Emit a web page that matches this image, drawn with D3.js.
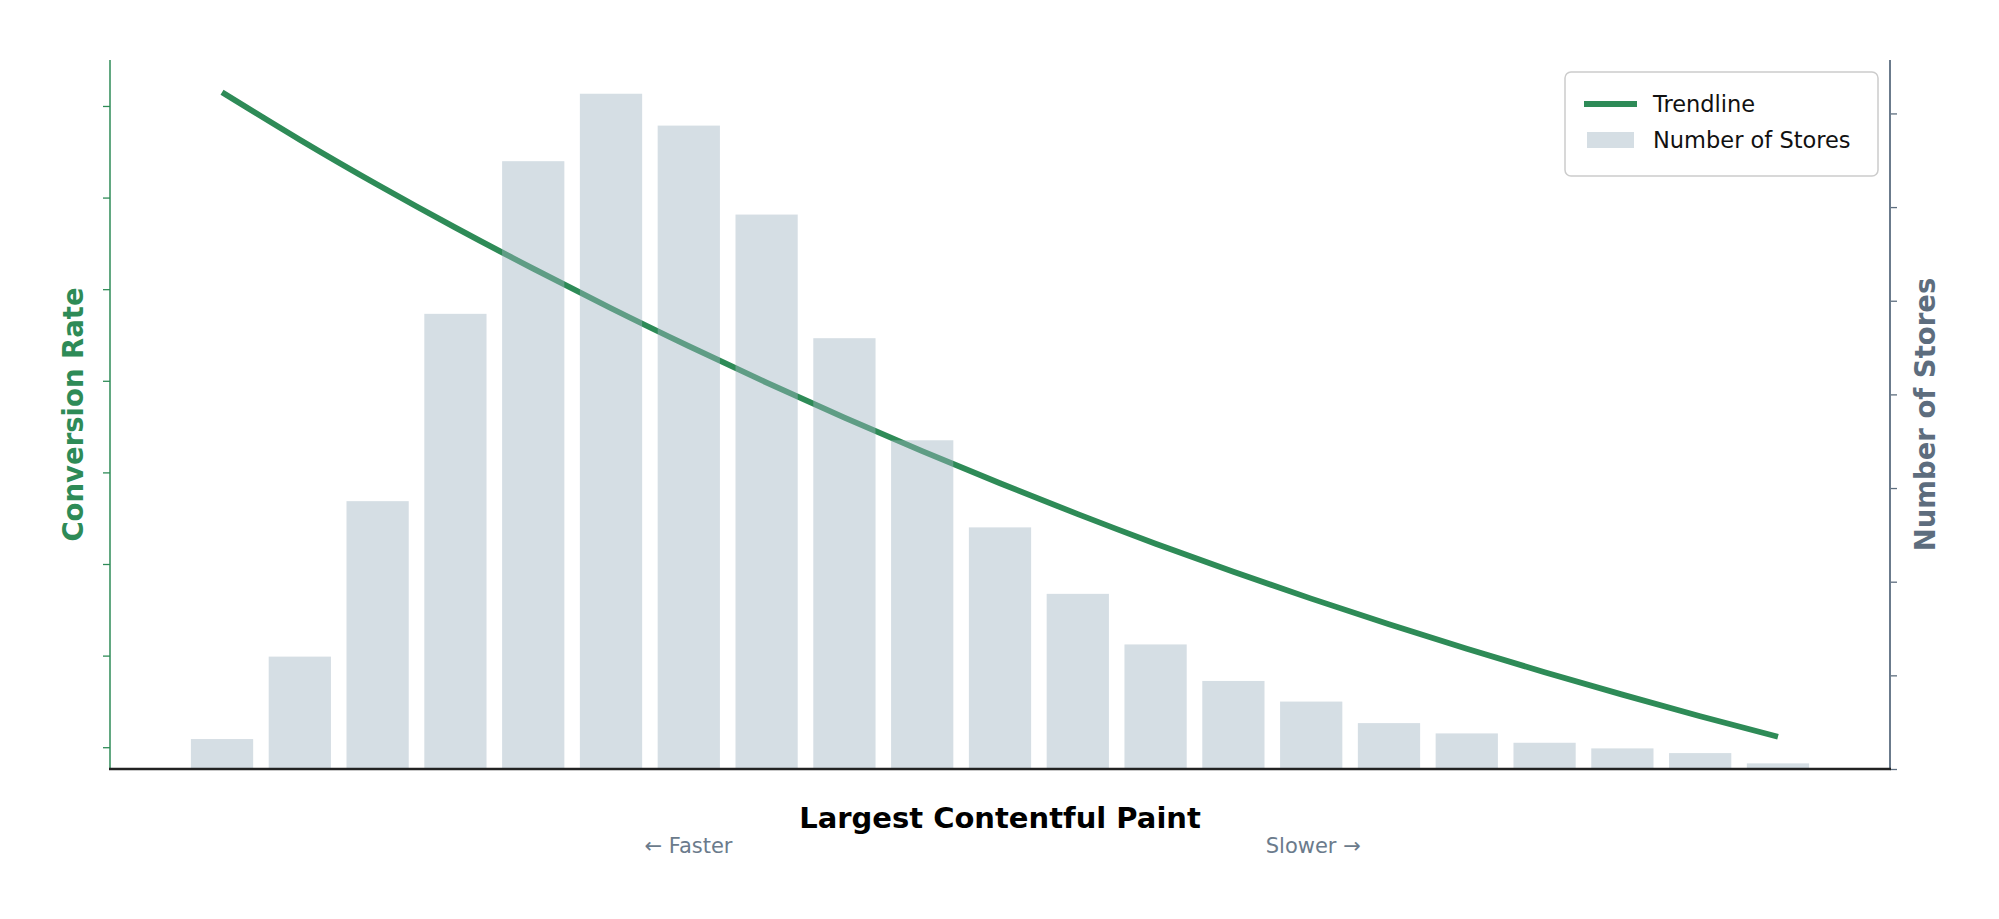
<!DOCTYPE html>
<html>
<head>
<meta charset="utf-8">
<script src="https://cdn.jsdelivr.net/npm/d3@7"></script>
<style>
  body { margin: 0; background: #fff; }
  svg { display: block; font-family: "DejaVu Sans", sans-serif; }
</style>
</head>
<body>
<div id="chart"></div>
<script>
// LCP bins (tick labels are hidden in the chart)
var lcpBins = ["0.0s","0.5s","1.0s","1.5s","2.0s","2.5s","3.0s","3.5s","4.0s","4.5s","5.0s",
               "5.5s","6.0s","6.5s","7.0s","7.5s","8.0s","8.5s","9.0s","9.5s","10.0s"];
// number of stores per bin
var storeCounts = [32, 120, 286, 486, 649, 721, 687, 592, 460, 351, 258,
                   187, 133, 94, 72, 49, 38, 28, 22, 17, 6];
// conversion rate trendline (%)
var conversionRate = [4.575, 4.316, 4.070, 3.836, 3.612, 3.396, 3.189, 2.990, 2.799, 2.616, 2.441,
                      2.272, 2.111, 1.958, 1.811, 1.671, 1.538, 1.409, 1.287, 1.169, 1.057];
var rateTicks = [1.0, 1.5, 2.0, 2.5, 3.0, 3.5, 4.0, 4.5];
var storeTicks = [0, 100, 200, 300, 400, 500, 600, 700];

var W = 1999, H = 919;
var margin = {top: 60, right: 109, bottom: 150, left: 110},
    width = W - margin.left - margin.right,
    height = H - margin.top - margin.bottom;

var green = "#2e8b57", slate = "#5d6d7e";

var svg = d3.select("#chart")
  .append("svg")
    .attr("width", W)
    .attr("height", H)
  .append("g")
    .attr("transform", "translate(" + margin.left + "," + margin.top + ")");

// X: bars of width 0.8 with 5% margins like matplotlib
var n = lcpBins.length;
var span = (n - 1) + 0.8;
var x = d3.scaleLinear()
  .domain([-0.4 - span * 0.05, n - 1 + 0.4 + span * 0.05])
  .range([0, width]);

// Left Y (conversion rate), autoscaled with 5% margins
var rMin = d3.min(conversionRate), rMax = d3.max(conversionRate);
var rPad = (rMax - rMin) * 0.05;
var yRate = d3.scaleLinear()
  .domain([rMin - rPad, rMax + rPad])
  .range([height, 0]);

// Right Y (stores)
var yStores = d3.scaleLinear()
  .domain([0, d3.max(storeCounts) * 1.05])
  .range([height, 0]);

// Trendline (drawn first, bars sit over it)
var line = d3.line()
  .x(function(d, i) { return x(i); })
  .y(function(d) { return yRate(d); })
  .curve(d3.curveNatural);

svg.append("path")
  .datum(conversionRate)
  .attr("fill", "none")
  .attr("stroke", green)
  .attr("stroke-width", 5.8)
  .attr("d", line);

// Bars
svg.selectAll("rect.bar")
  .data(storeCounts)
  .enter()
  .append("rect")
    .attr("class", "bar")
    .attr("x", function(d, i) { return x(i - 0.4); })
    .attr("y", function(d) { return yStores(d); })
    .attr("width", x(0.8) - x(0))
    .attr("height", function(d) { return height - yStores(d); })
    .attr("fill", "#9fb3c1")
    .attr("fill-opacity", 0.44);

// Left axis
var leftAxis = svg.append("g")
  .call(d3.axisLeft(yRate).tickValues(rateTicks).tickSize(7).tickFormat(""));
leftAxis.select(".domain").remove();
leftAxis.selectAll(".tick line").attr("stroke", green).attr("stroke-width", 1.3);
svg.append("line")
  .attr("x1", 0).attr("x2", 0).attr("y1", 0).attr("y2", height)
  .attr("stroke", green).attr("stroke-width", 1.5);

// Right axis
var rightAxis = svg.append("g")
  .attr("transform", "translate(" + width + ",0)")
  .call(d3.axisRight(yStores).tickValues(storeTicks).tickSize(7).tickFormat(""));
rightAxis.select(".domain").remove();
rightAxis.selectAll(".tick line").attr("stroke", slate).attr("stroke-width", 1.3);
svg.append("line")
  .attr("x1", width).attr("x2", width).attr("y1", 0).attr("y2", height)
  .attr("stroke", "#6b7b8c").attr("stroke-width", 2);

// Bottom spine
svg.append("line")
  .attr("x1", -1).attr("x2", width + 1).attr("y1", height).attr("y2", height)
  .attr("stroke", "#222").attr("stroke-width", 2.5);

// Axis labels
svg.append("text")
  .attr("transform", "rotate(-90)")
  .attr("x", -height / 2)
  .attr("y", -37)
  .attr("dy", "0.35em")
  .style("text-anchor", "middle")
  .style("font-size", "27.5px")
  .style("font-weight", "bold")
  .style("fill", green)
  .text("Conversion Rate");

svg.append("text")
  .attr("transform", "rotate(-90)")
  .attr("x", -height / 2)
  .attr("y", width + 35)
  .attr("dy", "0.35em")
  .style("text-anchor", "middle")
  .style("font-size", "27.5px")
  .style("font-weight", "bold")
  .style("fill", slate)
  .text("Number of Stores");

svg.append("text")
  .attr("x", width / 2)
  .attr("y", height + 59)
  .style("text-anchor", "middle")
  .style("font-size", "29px")
  .style("font-weight", "bold")
  .style("fill", "#000")
  .text("Largest Contentful Paint");

svg.append("text")
  .attr("x", width * 0.325)
  .attr("y", height + 84)
  .style("text-anchor", "middle")
  .style("font-size", "21px")
  .style("fill", "#6b7b8c")
  .text("← Faster");

svg.append("text")
  .attr("x", width * 0.676)
  .attr("y", height + 84)
  .style("text-anchor", "middle")
  .style("font-size", "21px")
  .style("fill", "#6b7b8c")
  .text("Slower →");

// Legend
var legend = svg.append("g")
  .attr("transform", "translate(" + (width - 325) + ",12)");

legend.append("rect")
  .attr("width", 313)
  .attr("height", 104)
  .attr("rx", 6)
  .attr("fill", "#fff")
  .attr("fill-opacity", 0.8)
  .attr("stroke", "#cccccc")
  .attr("stroke-width", 1.5);

legend.append("line")
  .attr("x1", 19).attr("x2", 72)
  .attr("y1", 32).attr("y2", 32)
  .attr("stroke", green)
  .attr("stroke-width", 5.8);

legend.append("rect")
  .attr("x", 22).attr("y", 60)
  .attr("width", 47).attr("height", 16)
  .attr("fill", "#9fb3c1")
  .attr("fill-opacity", 0.44);

legend.append("text")
  .attr("x", 88).attr("y", 40)
  .style("font-size", "22.5px")
  .style("fill", "#111")
  .text("Trendline");

legend.append("text")
  .attr("x", 88).attr("y", 76)
  .style("font-size", "22.5px")
  .style("fill", "#111")
  .text("Number of Stores");
</script>
</body>
</html>
